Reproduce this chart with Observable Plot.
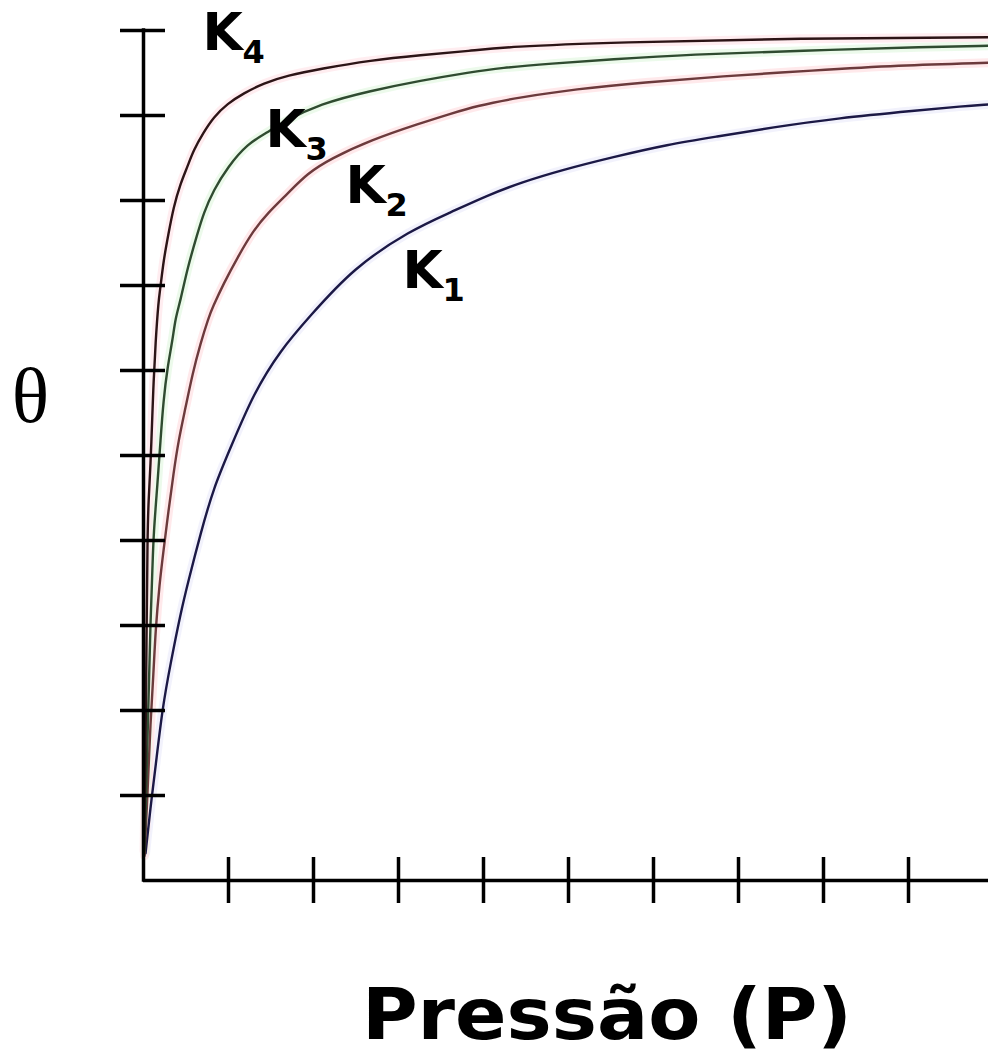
<!DOCTYPE html>
<html>
<head>
<meta charset="utf-8">
<script src="https://cdn.jsdelivr.net/npm/d3@7"></script>
<script src="https://cdn.jsdelivr.net/npm/@observablehq/plot@0.6"></script>
<style>
  html, body { margin: 0; padding: 0; background: #fff; }
  #wrap { position: relative; width: 988px; height: 1058px; overflow: hidden; }
  #xlabel {
    position: absolute; left: 226px; width: 762px; top: 979px;
    text-align: center; font: bold 71px/72px "DejaVu Sans", sans-serif; color: #000;
    white-space: nowrap; transform: scaleX(1.07); transform-origin: 381px 50%;
  }
</style>
</head>
<body>
<div id="wrap">
  <div id="chart"></div>
  <div id="xlabel">Pressão (P)</div>
</div>
<script>
// Langmuir adsorption isotherms: coverage θ against pressure P for four constants K1 < K2 < K3 < K4

// K1 curve
const k1P = [0.024, 0.082, 0.141, 0.224, 0.318, 0.435, 0.529, 0.671, 0.824, 1.024, 1.294, 1.612, 1.941, 2.471, 3.141, 3.612, 4.047, 4.435, 4.929, 5.518, 6.176, 6.729, 7.4, 8.165, 9.106, 9.635, 9.94];
const k1T = [0.32, 0.86, 1.33, 2.04, 2.55, 3.14, 3.53, 4.08, 4.62, 5.09, 5.73, 6.24, 6.62, 7.21, 7.65, 7.86, 8.06, 8.21, 8.36, 8.51, 8.66, 8.75, 8.86, 8.97, 9.06, 9.11, 9.13];

// K2 curve
const k2P = [0.012, 0.047, 0.082, 0.118, 0.141, 0.188, 0.235, 0.294, 0.353, 0.412, 0.494, 0.576, 0.671, 0.765, 0.812, 0.941, 1.106, 1.294, 1.459, 1.694, 1.929, 2.2, 2.671, 3.259, 3.612, 3.906, 4.4, 5.082, 5.894, 6.788, 7.882, 8.871, 9.94];
const k2T = [0.29, 1.0, 1.88, 2.44, 2.94, 3.49, 3.88, 4.35, 4.79, 5.18, 5.56, 5.96, 6.32, 6.62, 6.74, 7.02, 7.33, 7.65, 7.85, 8.08, 8.32, 8.49, 8.71, 8.91, 9.02, 9.11, 9.21, 9.31, 9.39, 9.46, 9.53, 9.59, 9.62];

// K3 curve
const k3P = [0.012, 0.035, 0.059, 0.082, 0.106, 0.118, 0.165, 0.2, 0.235, 0.282, 0.341, 0.376, 0.435, 0.518, 0.635, 0.706, 0.824, 0.988, 1.224, 1.459, 1.612, 2.082, 2.671, 3.259, 3.847, 4.2, 4.788, 5.494, 6.435, 7.729, 9.259, 9.94];
const k3T = [0.35, 1.18, 2.12, 3.06, 3.68, 4.08, 4.67, 5.18, 5.65, 6.04, 6.35, 6.62, 6.82, 7.21, 7.61, 7.85, 8.12, 8.39, 8.67, 8.8, 8.91, 9.14, 9.29, 9.41, 9.51, 9.56, 9.61, 9.66, 9.72, 9.76, 9.81, 9.82];

// K4 curve
const k4P = [0.006, 0.024, 0.035, 0.047, 0.059, 0.082, 0.106, 0.118, 0.141, 0.176, 0.2, 0.235, 0.294, 0.353, 0.435, 0.518, 0.588, 0.706, 0.824, 0.988, 1.176, 1.412, 1.694, 2.082, 2.671, 3.259, 3.847, 4.294, 5.553, 7.729, 9.94];
const k4T = [0.35, 1.41, 2.82, 4.08, 4.47, 4.86, 5.53, 5.85, 6.32, 6.82, 6.98, 7.29, 7.61, 7.92, 8.2, 8.4, 8.59, 8.8, 8.98, 9.14, 9.26, 9.38, 9.47, 9.55, 9.65, 9.71, 9.76, 9.81, 9.86, 9.91, 9.92];

// Axis ticks (unlabelled)
const xTicks = [1, 2, 3, 4, 5, 6, 7, 8, 9];
const yTicks = [1, 2, 3, 4, 5, 6, 7, 8, 9, 10];

// Curve names and subscripts
const seriesNames = ["K1", "K2", "K3", "K4"];
const subscripts = ["1", "2", "3", "4"];

const curves = [
  {name: seriesNames[0], P: k1P, T: k1T},
  {name: seriesNames[1], P: k2P, T: k2T},
  {name: seriesNames[2], P: k3P, T: k3T},
  {name: seriesNames[3], P: k4P, T: k4T}
];
const points = curves.flatMap(c => c.P.map((p, i) => ({series: c.name, P: p, theta: c.T[i]})));

const lineColor = {K1: "#1b1845", K2: "#6c3a3c", K3: "#2f4b30", K4: "#2c1416"};
const haloColor = {K1: "#ececfb", K2: "#ffdfe3", K3: "#e4f8e2", K4: "#ffe6ea"};

// Label placement (baseline-left of the "K", in data units)
const labelSpots = [
  {P: 3.047, theta: 6.976},
  {P: 2.376, theta: 7.965},
  {P: 1.435, theta: 8.624},
  {P: 0.694, theta: 9.765}
];
const labels = seriesNames.map((n, i) => ({series: n, sub: subscripts[i], ...labelSpots[i]}));

const labelFont = 52;
const subFont = 32;
const fam = "DejaVu Sans, sans-serif";

const chart = Plot.plot({
  width: 988,
  height: 930,
  marginTop: 30,
  marginBottom: 50,
  marginLeft: 143,
  marginRight: 0,
  x: {domain: [0, 845 / 85]},
  y: {domain: [0, 10]},
  marks: [
    // soft colour fringes along the curves
    Plot.line(points, {x: "P", y: "theta", z: "series", stroke: d => haloColor[d.series], strokeWidth: 9, strokeOpacity: 0.7, curve: "basis"}),
    // isotherms
    Plot.line(points, {x: "P", y: "theta", z: "series", stroke: d => lineColor[d.series], strokeWidth: 2.4, curve: "basis"}),
    // axes lines
    Plot.ruleX([0], {stroke: "#000", strokeWidth: 3.5, strokeLinecap: "square"}),
    Plot.ruleY([0], {stroke: "#000", strokeWidth: 3.5}),
    // ticks crossing the axis lines
    Plot.axisY({ticks: yTicks, tickSize: 45, dx: 22, tickFormat: () => "", label: null, strokeWidth: 3.5, stroke: "#000"}),
    Plot.axisX({ticks: xTicks, tickSize: 46, dy: -23, tickFormat: () => "", label: null, strokeWidth: 3.5, stroke: "#000"}),
    // curve labels: K with a subscript index
    Plot.text(labels, {x: "P", y: "theta", text: () => "K", textAnchor: "start", lineAnchor: "middle", dy: -0.32 * labelFont,
      fontSize: labelFont, fontWeight: "bold", fontFamily: fam, fill: "#000"}),
    Plot.text(labels, {x: "P", y: "theta", text: "sub", textAnchor: "start", lineAnchor: "middle", dx: 40, dy: 13 - 0.32 * subFont,
      fontSize: subFont, fontWeight: "bold", fontFamily: fam, fill: "#000"}),
    // y-axis title
    Plot.text(["θ"], {frameAnchor: "left", dx: -113, dy: -58, textAnchor: "middle", lineAnchor: "middle",
      fontSize: 78, fontFamily: "Liberation Serif, serif", fill: "#000"})
  ]
});
document.getElementById("chart").appendChild(chart);
</script>
</body>
</html>
